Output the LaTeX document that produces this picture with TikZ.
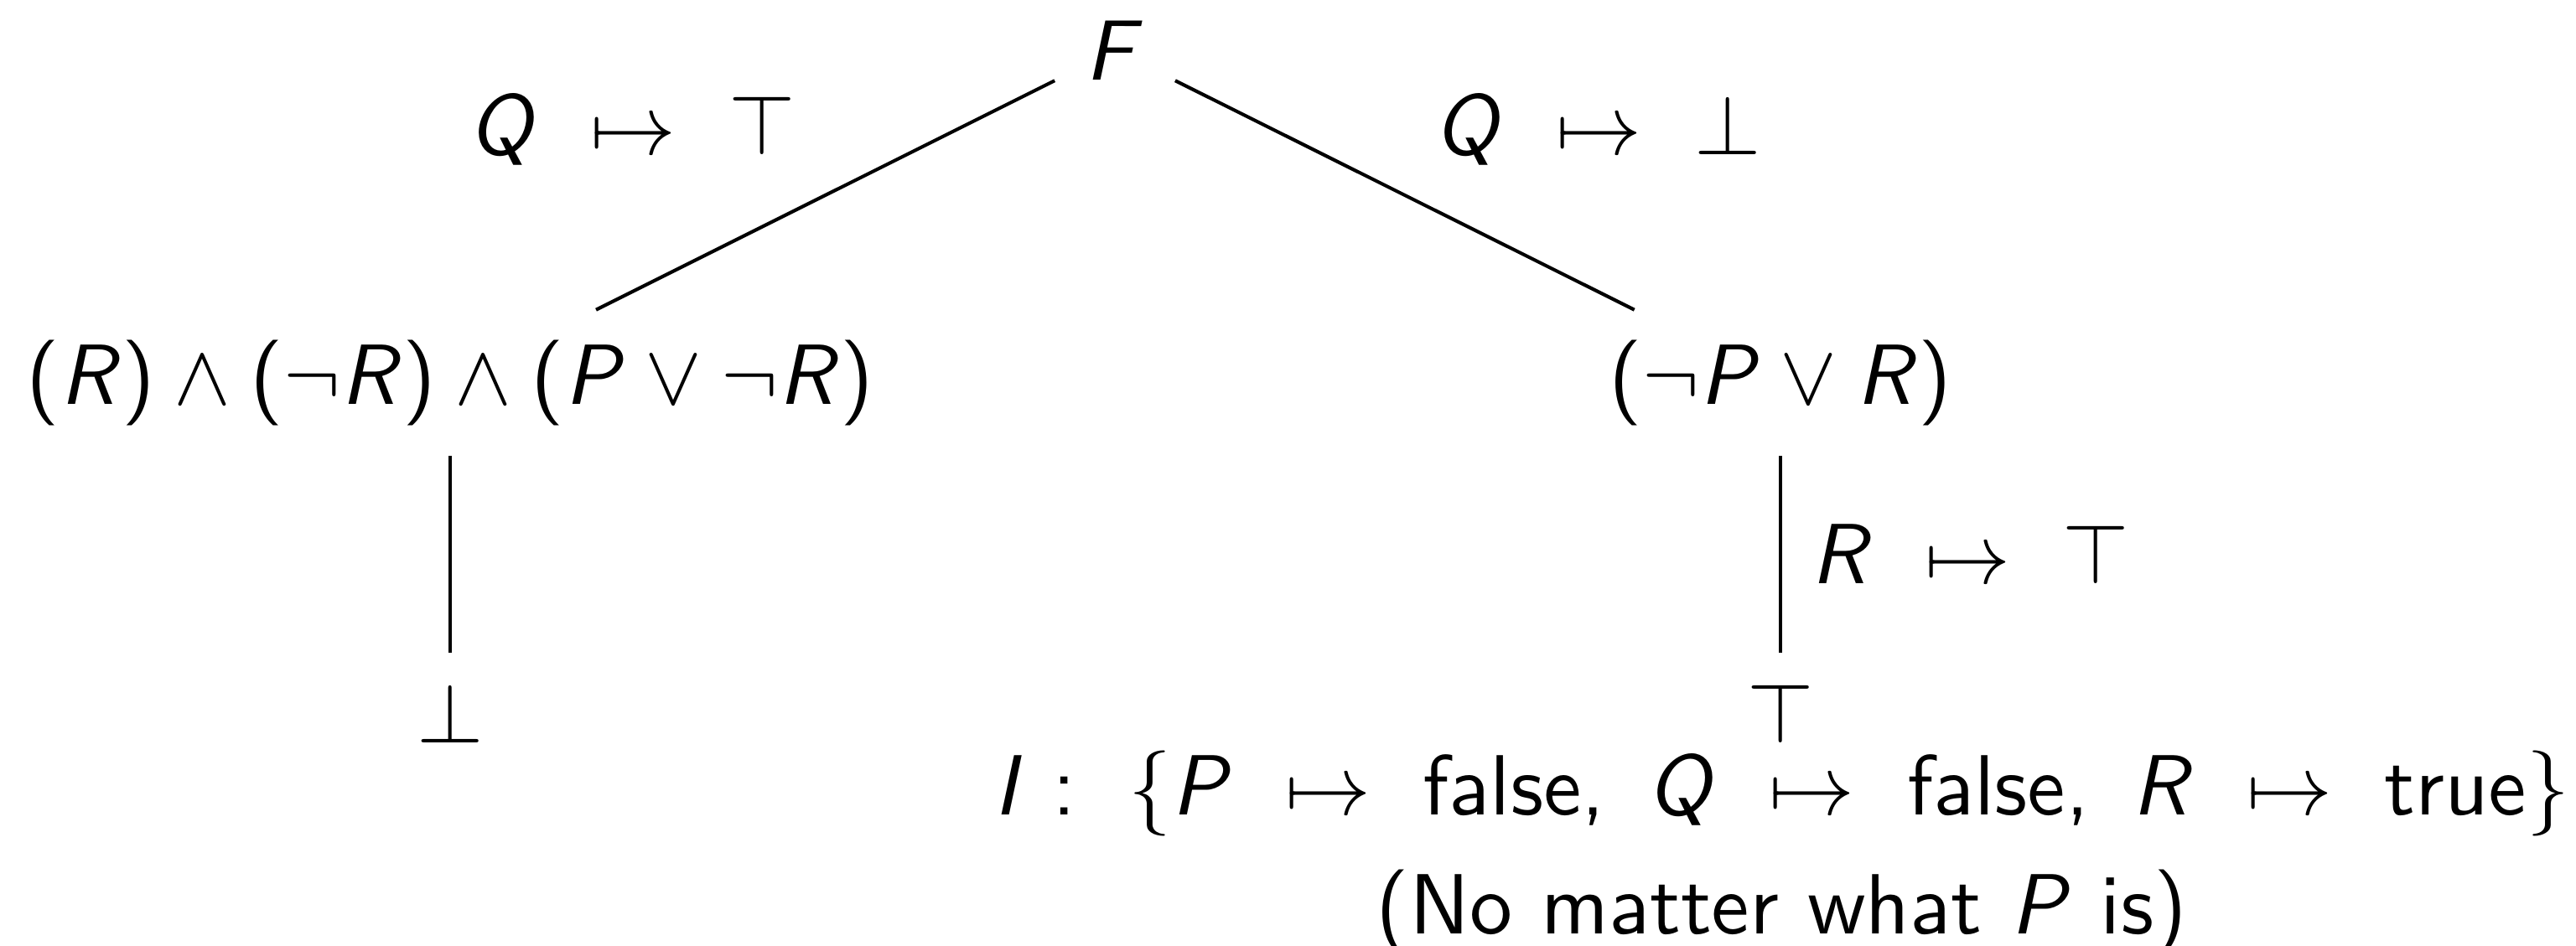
\documentclass[tikz,border=0pt]{standalone}
\usepackage{amsmath}
\usepackage{tikz}
\renewcommand{\familydefault}{\sfdefault}
\DeclareSymbolFont{operators}{OT1}{cmss}{m}{n}
\DeclareSymbolFont{letters}{OT1}{cmss}{m}{sl}
\DeclareMathSymbol{,}{\mathpunct}{operators}{"2C}

\begin{document}
\begin{tikzpicture}[txt/.style={anchor=base}]
  \useasboundingbox (0,0) rectangle (10.589,-3.887);
  % Nodes
  \node (F) at (4.583,-0.208) {$F$};
  \node (conj) at (1.850,-1.574) {$(R) \wedge (\neg R) \wedge (P \vee \neg R)$};
  \node (disj) at (7.319,-1.574) {$(\neg P \vee R)$};
  \node (bot) at (1.850,-2.931) {$\bot$};
  \node (top) at (7.319,-2.931) {$\top$};
  \node[txt] (interp) at (7.323,-3.351) {$I :\ \{P\ \mapsto\ \text{false},\ Q\ \mapsto\ \text{false},\ R\ \mapsto\ \text{true}\}$};
  \node[txt] (note) at (7.323,-3.841) {(No matter what $P$ is)};

  % Edges
  \draw (F) -- node[midway, above left] {$Q\ \mapsto\ \top$} (conj);
  \draw (F) -- node[midway, above right] {$Q\ \mapsto\ \bot$} (disj);
  \draw (conj) -- (bot);
  \draw (disj) -- node[midway, right] {$R\ \mapsto\ \top$} (top);
\end{tikzpicture}
\end{document}
